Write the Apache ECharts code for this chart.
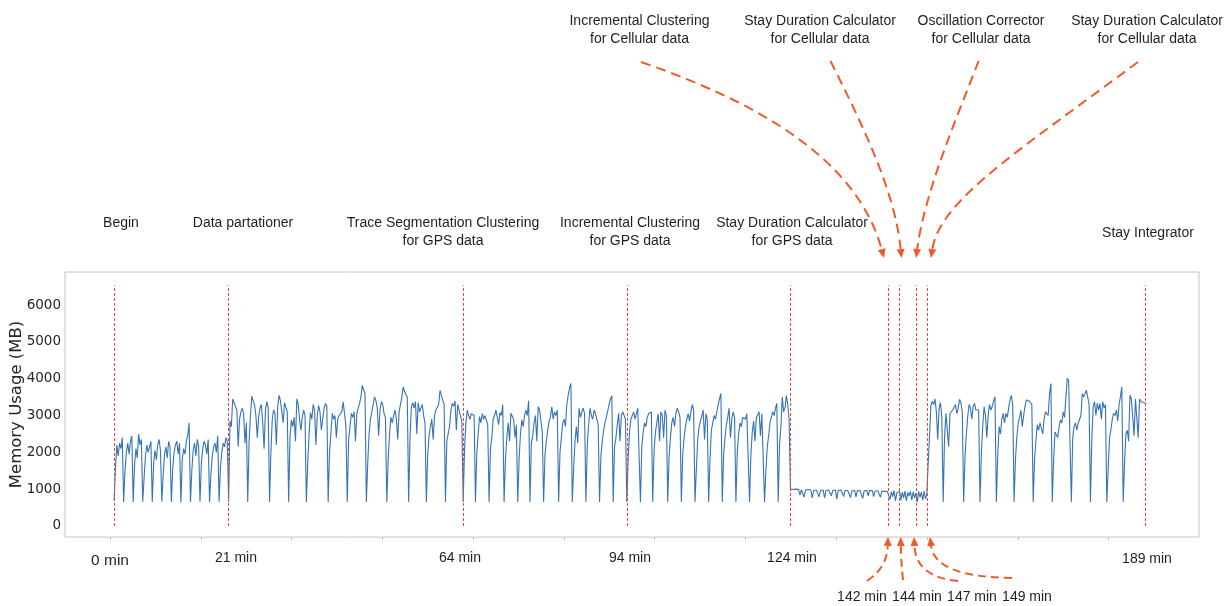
<!DOCTYPE html>
<html>
<head>
<meta charset="utf-8">
<title>Memory usage per pipeline stage</title>
<script src="https://cdn.jsdelivr.net/npm/echarts@6/dist/echarts.min.js"></script>
<style>
  html, body { margin: 0; padding: 0; background: #ffffff; }
  #chart { width: 1228px; height: 606px; }
</style>
</head>
<body>
<div id="chart"></div>
<script>
// Sampling step of the memory trace, in minutes.
const STEP_MIN = 0.25;

// Memory usage (MB), one inner array per load/flush cycle, sampled every STEP_MIN.
const mem0to21 = [
  [700, 1550, 2200, 1900, 2250, 2100, 2400],
  [650, 1500, 2000, 2250, 1950, 2300, 2450],
  [650, 1650, 2100, 1850, 2500, 2200, 2350],
  [660, 1300, 1900, 2200, 2000, 2150, 2300],
  [650, 1700, 2050, 1800, 2200, 2350, 2050],
  [660, 1400, 1950, 2150, 1850, 2300, 2150],
  [650, 1550, 2000, 2200, 2300, 1950, 2250],
  [640, 1800, 2100, 1950, 2300, 2450, 2800],
  [650, 1500, 2050, 2250, 1900, 2350, 2150],
  [660, 1700, 2100, 2300, 2200, 1950, 2350],
  [650, 1400, 1900, 2150, 2250, 2000, 2450],
  [660, 1600, 2000, 2250, 2150, 2400, 2300]
];

const mem21to64 = [
  [650, 2850, 2700, 3450, 3350, 3250, 3150, 2150, 2900, 3100, 3200, 3050, 2250, 2800],
  [650, 2300, 3000, 3530, 3400, 3300, 3000, 2400, 2950, 3200, 3300, 2800, 2100, 3150, 3380, 3200],
  [650, 2000, 2900, 3150, 3050, 2200, 3250, 3550, 3400, 3100, 2800, 3350, 3300, 3100],
  [650, 2400, 2880, 2700, 2950, 2300, 3450, 3300, 2900, 2600, 2950, 3150, 3000],
  [650, 1700, 2500, 3080, 2900, 3300, 3150, 2200, 3000, 3270, 3100, 2600, 2900, 3200, 3330, 3250],
  [650, 2000, 2500, 3060, 2900, 3000, 2400, 2900, 3000, 2950, 3100, 3370, 3050, 2700],
  [650, 2350, 2700, 3060, 2950, 3100, 2300, 3050, 3200, 3330, 3500, 3820, 3700, 3600],
  [650, 1700, 2500, 2900, 3100, 3300, 3510, 3400, 3200, 2450, 3150, 3380, 3300, 3050, 2950],
  [650, 1800, 2500, 2950, 2800, 3000, 3150, 2900, 2350, 3100, 3300, 3500, 3780, 3650, 3600, 3500],
  [650, 2400, 3240, 3350, 3200, 3380, 2500, 3350, 3100, 3200, 3300, 3000, 2800],
  [650, 1950, 2460, 2700, 2900, 2350, 3000, 3150, 3100, 3300, 3680, 3550, 3420, 3300],
  [650, 2300, 2500, 2700, 3150, 3330, 3250, 3400, 2600, 3300, 3150, 3000, 2850]
];

const mem64to124 = [
  [650, 2100, 2800, 3150, 3000, 2900, 3050, 3100, 3000],
  [650, 2000, 2500, 2970, 2800, 3050, 2900, 3000, 2950, 2750],
  [650, 2100, 2400, 2900, 3000, 3150, 2950, 2750, 3080, 3000, 3300],
  [650, 1800, 2400, 2800, 2300, 3060, 3100, 2900, 2400, 2750],
  [650, 1800, 2500, 2880, 2700, 3000, 3150, 3000, 3400],
  [650, 2250, 2450, 2800, 3000, 2300, 3240, 3150, 2850, 2550],
  [650, 1950, 2300, 2600, 2850, 2970, 3240, 2900, 3100, 3000, 3150],
  [650, 2000, 2400, 2800, 2900, 2700, 3300, 3550, 3750, 3870],
  [650, 1550, 2300, 2700, 2250, 3200, 2950, 3100, 3200, 3050],
  [650, 2200, 2750, 3200, 3000, 2900, 3150, 3050, 2900, 2750],
  [650, 1900, 2300, 2600, 2800, 2950, 3000, 3300, 3450, 3540],
  [650, 2150, 2400, 2750, 3060, 2300, 3000, 3100, 3000, 2900],
  [650, 1850, 2550, 2900, 2950, 3100, 2900, 3050, 3200, 3150],
  [650, 2150, 2550, 2800, 2700, 2950, 3050, 3000, 3100],
  [650, 2050, 2550, 2800, 3050, 2300, 3100, 3000, 2400, 3150, 3000],
  [650, 1900, 2400, 2800, 2950, 2700, 3050, 3200, 3100, 2950],
  [650, 1950, 2400, 2700, 2900, 3050, 2850, 3100, 3300, 3150],
  [650, 1550, 2350, 2700, 2850, 3000, 3150, 2350, 3050, 2900],
  [650, 1800, 2600, 2800, 3000, 2900, 3100, 3300, 3450, 3600],
  [650, 1950, 2400, 2750, 2950, 3200, 2400, 2900, 3100, 2950],
  [650, 2000, 2500, 2800, 2700, 2950, 3000, 2900, 3050, 3100],
  [650, 1950, 2550, 2850, 2300, 2950, 3000, 3100, 2450, 3050, 3100],
  [650, 1500, 2150, 2450, 2800, 2950, 3100, 3000, 3200, 3330],
  [650, 2200, 2700, 3500, 3100, 3200, 3540, 3300, 2900]
];

const mem124to142 = [
  1000, 990, 990, 990, 1000, 985, 990, 840, 985, 990, 780, 975,
  980, 990, 1010, 975, 760, 965, 970, 975, 980, 790, 965, 970,
  975, 760, 965, 970, 975, 980, 820, 965, 970, 975, 730, 965,
  970, 985, 1030, 800, 965, 970, 965, 970, 770, 955, 960, 965,
  790, 955, 960, 965, 1000, 750, 955, 960, 965, 820, 960, 955,
  960, 800, 950, 945, 950, 955, 780, 950, 945, 940, 950, 945
];

const mem142to149 = [
  950, 720, 930, 800, 960, 680, 900, 850, 940, 700, 920, 760, 950, 680,
  910, 820, 940, 700, 930, 760, 890, 650, 940, 780, 920, 700, 950, 740
];

const mem149to189 = [
  [850, 1700, 2450, 3280, 3380, 3300, 3450, 3100, 2350, 3200, 3350, 2950],
  [650, 2400, 3060, 3050, 2150, 3060, 3100, 3150, 3200, 3300, 3050, 3200, 3440, 3350, 3100],
  [650, 1880, 2500, 2970, 3300, 3200, 2900, 3250, 3330, 3150, 3200, 3150],
  [650, 1970, 2700, 3240, 3000, 2400, 3000, 3300, 3150, 3250, 3400, 3510],
  [650, 1900, 2700, 2500, 2900, 3060, 2800, 3060, 2950, 3200, 3420, 3550, 3300],
  [650, 1800, 2400, 2800, 2950, 3150, 2700, 3000, 3250, 3420, 3450, 3400, 3420, 3300],
  [650, 1800, 2300, 2750, 2600, 2800, 2780, 2500, 2900, 3100, 3150, 3000, 3600, 3870],
  [650, 1800, 2550, 2600, 2400, 2700, 2880, 2800, 3100, 2950, 3500, 4010, 3950, 3920],
  [650, 2400, 2700, 2800, 2600, 2790, 2750, 3000, 3600, 3500, 3450, 3690, 3500, 3300],
  [650, 2350, 3240, 3380, 3000, 3330, 3150, 3330, 2900, 3380, 3200, 3300],
  [650, 1550, 2400, 2600, 2900, 3060, 3000, 3150, 2850, 3300, 3510, 3780],
  [650, 1700, 2500, 2600, 2300, 3550, 3450, 3400, 2450, 3450, 3400, 2400, 3450, 3380, 3350, 3350, 3340, 3330]
];

// Stage boundaries (minutes) marked with red dashed lines.
const stageMinutes = [0, 21, 64, 94, 124, 142, 144, 147, 149, 189];
const stageLabels = ['0 min', '21 min', '64 min', '94 min', '124 min',
                     '142 min', '144 min', '147 min', '149 min', '189 min'];

// Axis ticks.
const yTickValues = [0, 1000, 2000, 3000, 4000, 5000, 6000];
const xTickMinutes = [-0.73, 15.91, 32.55, 49.19, 65.83, 82.48, 99.12, 115.76, 132.40, 149.04, 165.68, 182.33];

// Stage names written above the plot.
const gpsStageNames = ['Begin', 'Data partationer', 'Trace Segmentation Clustering\nfor GPS data',
                       'Incremental Clustering\nfor GPS data', 'Stay Duration Calculator\nfor GPS data',
                       'Stay Integrator'];
const cellStageNames = ['Incremental Clustering\nfor Cellular data', 'Stay Duration Calculator\nfor Cellular data',
                        'Oscillation Corrector\nfor Cellular data', 'Stay Duration Calculator\nfor Cellular data'];

// ---------------------------------------------------------------------------

function toPoints(startMinute, cycles) {
  const pts = [];
  let i = 0;
  cycles.forEach(function (cycle) {
    cycle.forEach(function (v) {
      pts.push([startMinute + i * STEP_MIN, v]);
      i++;
    });
  });
  return pts;
}

const trace = [].concat(
  toPoints(0, mem0to21),
  toPoints(21, mem21to64),
  toPoints(64, mem64to124),
  toPoints(124, [mem124to142]),
  toPoints(142, [mem142to149]),
  toPoints(149, mem149to189)
);

const RED_LINE_TOP = 6540;      // upper end of the stage markers, MB
const ARROW_COLOR = '#f05a2a';
const TEXT_COLOR = '#1f1f1f';
const LABEL_FONT = '14px "Liberation Sans", Arial, sans-serif';

// Layout of the annotation texts (pixel centres).
const gpsNamePos = [[121, 223], [243, 223], [443, 232], [630, 232], [792, 232], [1148, 233]];
const cellNamePos = [[639.5, 30], [820, 30], [981, 30], [1147, 30]];
const minuteLabelPos = [[110, 561], [236, 558], [460, 558], [630, 558], [792, 558],
                        [862, 597], [917, 597], [972, 597], [1027, 597], [1147, 559]];
const minuteLabelSize = [15.5, 14, 14, 14, 14, 14, 14, 14, 14, 14];

// Dashed curved arrows: start, control point(s), tip.
const arrowsBelow = [
  { p0: [867, 581], c1: [887, 568], tip: [888, 537] },
  { p0: [903, 580], c1: [901, 560], tip: [900.7, 537] },
  { p0: [958, 581], c1: [916, 577], tip: [914, 537] },
  { p0: [1012, 578], c1: [935, 577], tip: [930, 537] }
];
const arrowsAbove = [
  { p0: [641, 62], c1: [780, 110], c2: [860, 170], tip: [884, 258] },
  { p0: [830.5, 61], c1: [860, 120], c2: [895, 190], tip: [901.5, 258] },
  { p0: [978.6, 61], c1: [960, 110], c2: [925, 190], tip: [916, 258] },
  { p0: [1138, 62], c1: [1020, 150], c2: [940, 200], tip: [931, 258] }
];

function arrowElements(a, dash) {
  const headLen = 9, headW = 8;
  const prev = a.c2 || a.c1;
  let dx = a.tip[0] - prev[0], dy = a.tip[1] - prev[1];
  const len = Math.hypot(dx, dy);
  dx /= len; dy /= len;
  const base = [a.tip[0] - dx * headLen, a.tip[1] - dy * headLen];
  const nx = -dy, ny = dx;
  const shape = { x1: a.p0[0], y1: a.p0[1], x2: base[0], y2: base[1], cpx1: a.c1[0], cpy1: a.c1[1] };
  if (a.c2) { shape.cpx2 = a.c2[0]; shape.cpy2 = a.c2[1]; }
  return [
    { type: 'bezierCurve', silent: true, shape: shape,
      style: { stroke: ARROW_COLOR, lineWidth: 2, lineDash: dash, fill: null } },
    { type: 'polygon', silent: true,
      shape: { points: [a.tip,
                        [base[0] + nx * headW / 2, base[1] + ny * headW / 2],
                        [base[0] - nx * headW / 2, base[1] - ny * headW / 2]] },
      style: { fill: ARROW_COLOR } }
  ];
}

function textElement(text, pos, size) {
  return {
    type: 'text', silent: true, x: pos[0], y: pos[1],
    style: { text: text, font: size ? size + 'px "Liberation Sans", Arial, sans-serif' : LABEL_FONT,
             fill: TEXT_COLOR, align: 'center', verticalAlign: 'middle', lineHeight: 18 }
  };
}

const graphics = [];
gpsStageNames.forEach(function (t, i) { graphics.push(textElement(t, gpsNamePos[i])); });
cellStageNames.forEach(function (t, i) { graphics.push(textElement(t, cellNamePos[i])); });
stageLabels.forEach(function (t, i) { graphics.push(textElement(t, minuteLabelPos[i], minuteLabelSize[i])); });
arrowsBelow.forEach(function (a) { graphics.push.apply(graphics, arrowElements(a, [8, 5])); });
arrowsAbove.forEach(function (a) { graphics.push.apply(graphics, arrowElements(a, [10, 6])); });

const chart = echarts.init(document.getElementById('chart'), null, { renderer: 'canvas' });

chart.setOption({
  animation: false,
  backgroundColor: '#ffffff',
  grid: {
    left: 65, top: 272, right: 29, bottom: 69,
    show: true, borderColor: '#c4c4c4', borderWidth: 1,
    containLabel: false, outerBoundsMode: 'none'
  },
  xAxis: {
    type: 'value',
    min: -9, max: 198.9,
    axisLine: { show: false, onZero: false },
    splitLine: { show: false },
    axisTick: { show: true, customValues: xTickMinutes, length: 3, lineStyle: { color: '#c4c4c4' } },
    axisLabel: { show: false }
  },
  yAxis: {
    type: 'value',
    min: -300, max: 6900,
    name: 'Memory Usage (MB)',
    nameLocation: 'middle',
    nameGap: 40,
    nameMoveOverlap: false,
    nameTextStyle: { fontFamily: 'DejaVu Sans', fontSize: 16.5, color: '#262626' },
    axisLine: { show: false, onZero: false },
    axisTick: { show: false },
    splitLine: { show: false },
    axisLabel: {
      customValues: yTickValues, margin: 4, fontFamily: 'DejaVu Sans', fontSize: 13.5, color: '#262626',
      formatter: function (v) { return String(v); }
    }
  },
  series: [{
    type: 'line',
    data: trace,
    showSymbol: false,
    symbol: 'none',
    sampling: null,
    lineStyle: { color: '#3674b5', width: 1.1 },
    itemStyle: { color: '#3674b5' },
    emphasis: { disabled: true },
    markLine: {
      silent: true,
      symbol: ['none', 'none'],
      label: { show: false },
      emphasis: { disabled: true },
      lineStyle: { color: '#f0433a', width: 1, type: [3, 2] },
      data: stageMinutes.map(function (m) { return [{ coord: [m, 0] }, { coord: [m, RED_LINE_TOP] }]; })
    }
  }],
  graphic: graphics
});
</script>
</body>
</html>
